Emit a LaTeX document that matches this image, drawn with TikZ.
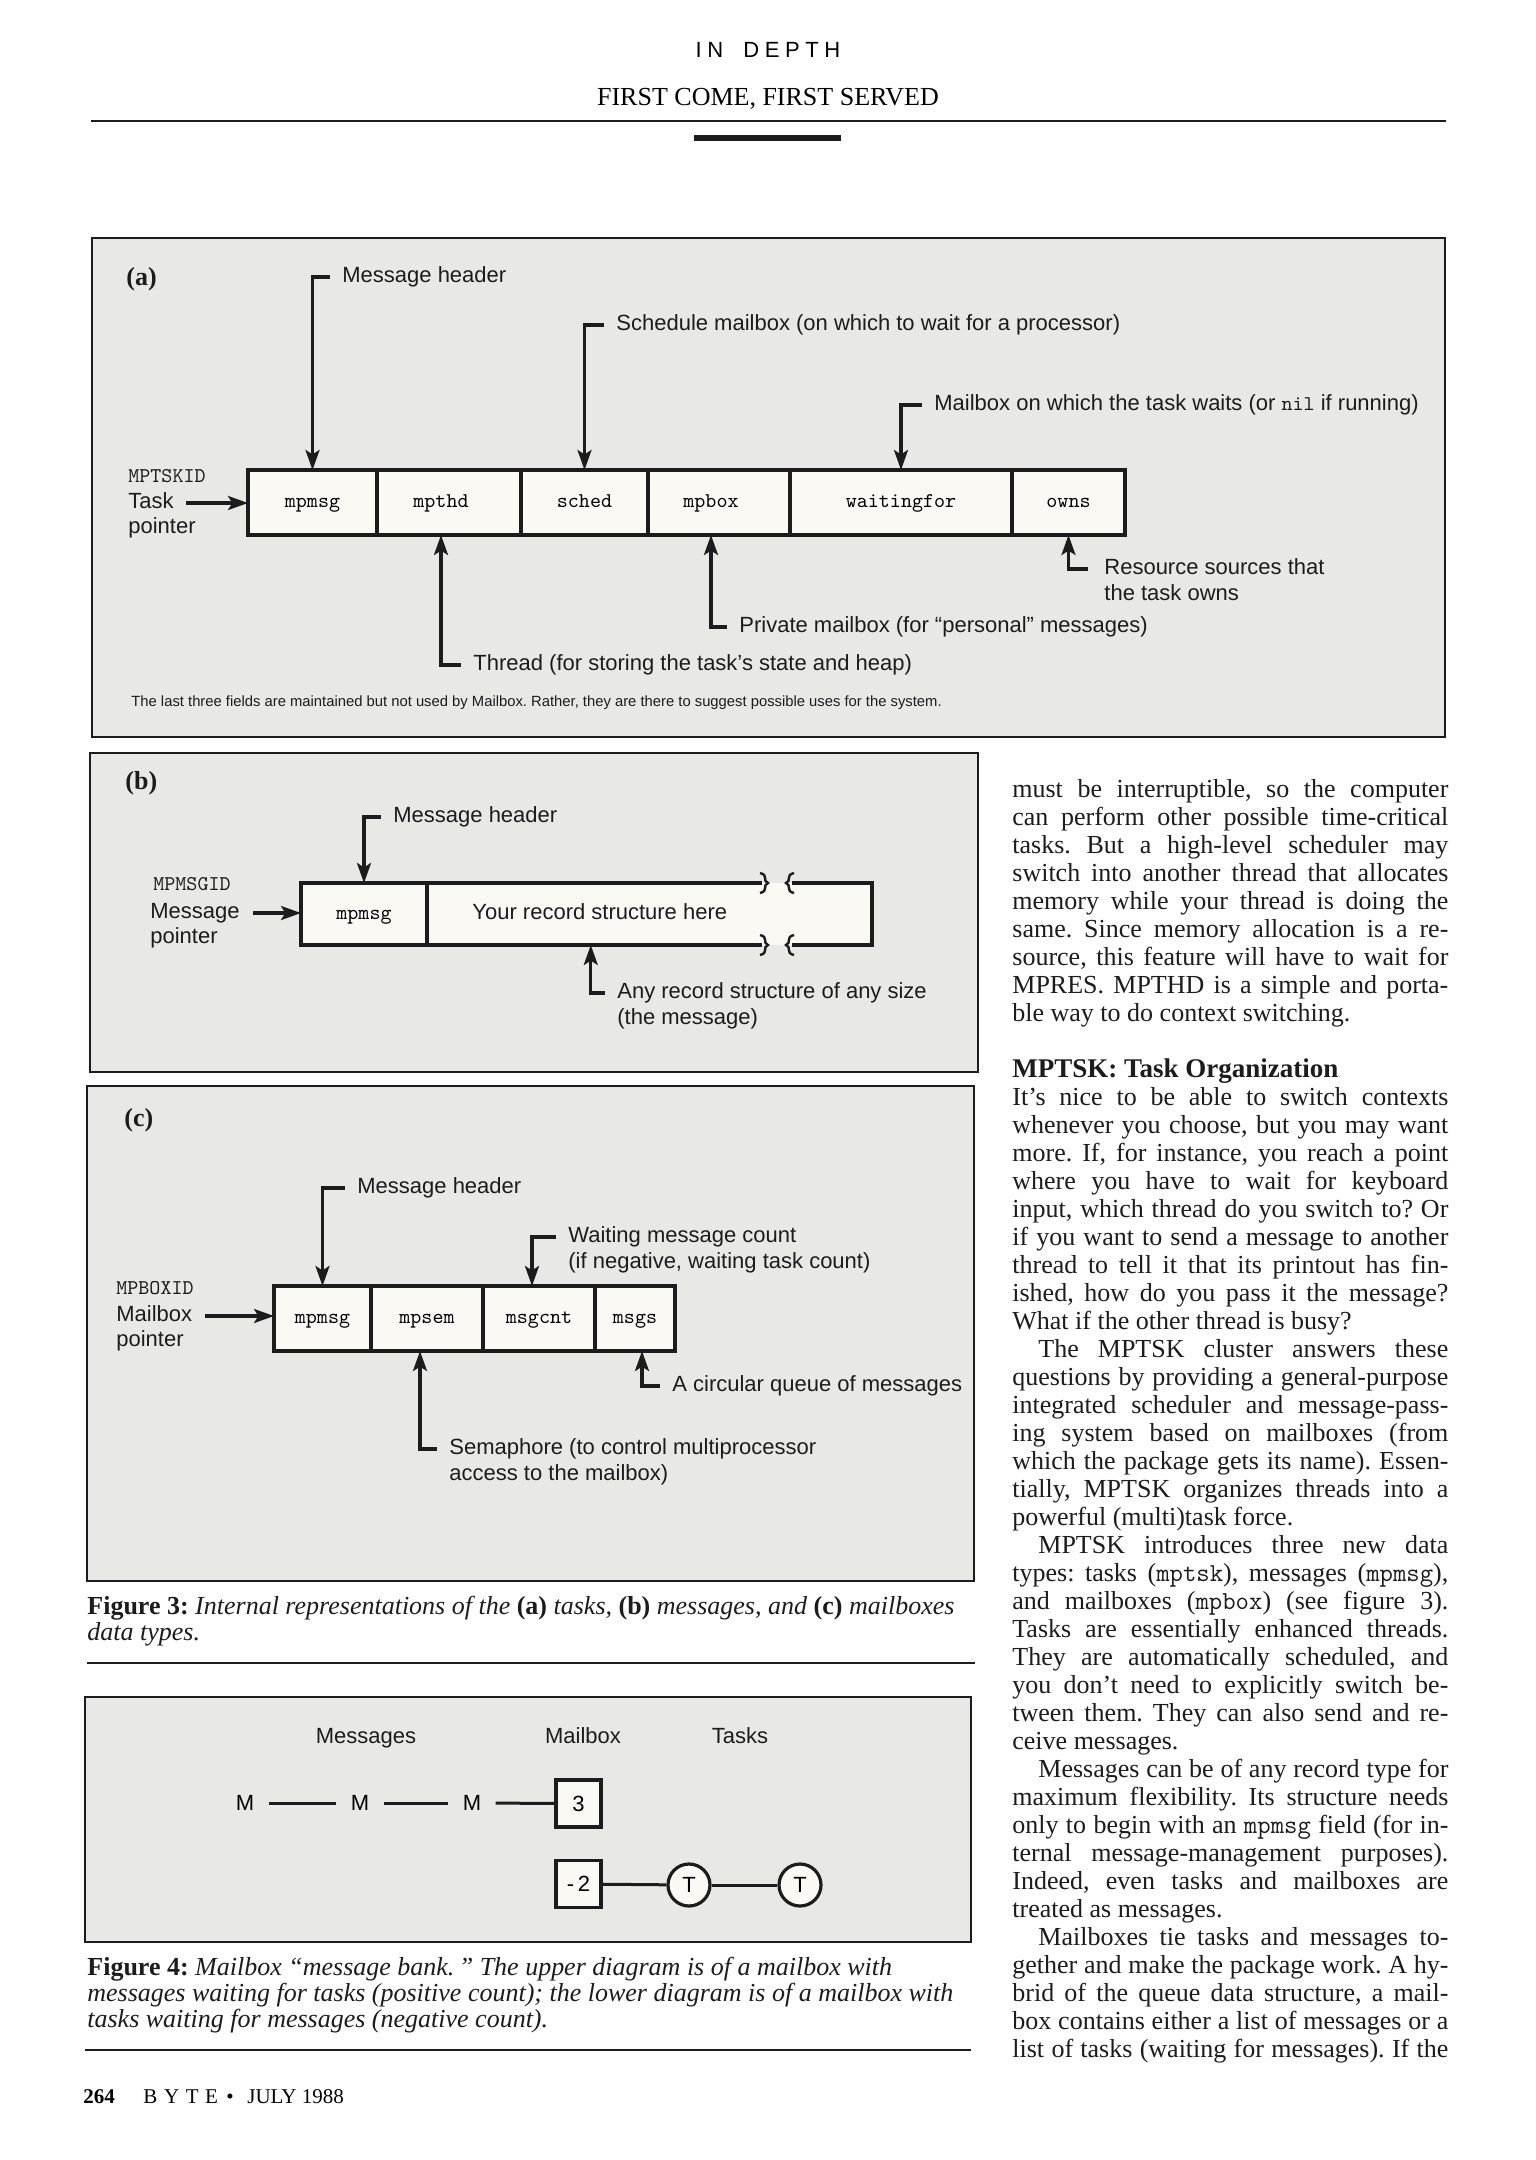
\documentclass[tikz,border=0pt]{standalone}
\usepackage{fontspec}
\setmainfont{Liberation Serif}
\newfontfamily\lab{Liberation Sans}
\usetikzlibrary{arrows.meta}
\definecolor{figbg}{RGB}{232,232,229}
\definecolor{cellbg}{RGB}{250,249,244}
\definecolor{ink}{RGB}{28,28,28}
\frenchspacing
\newcommand\bodyj[3]{\node[body] (#1) at (1012,#2) {\makebox[218pt][s]{#3}};}
\newcommand\bodyl[3]{\node[body] (#1) at (1012,#2) {#3};}
\newcommand\brkL[2]{\draw[brk] (#1-4,#2-10) .. controls (#1+5,#2-8) and (#1-2,#2-2) .. (#1+4,#2) .. controls (#1-2,#2+2) and (#1+5,#2+8) .. (#1-4,#2+10);}
\newcommand\brkR[2]{\draw[brk] (#1+4,#2-10) .. controls (#1-5,#2-8) and (#1+2,#2-2) .. (#1-4,#2) .. controls (#1+2,#2+2) and (#1-5,#2+8) .. (#1+4,#2+10);}
\begin{document}
\begin{tikzpicture}[x=0.5pt,y=-0.5pt,
  panel/.style={draw=ink, line width=1pt, fill=figbg},
  cell/.style={draw=ink, line width=1.7pt, fill=cellbg, inner sep=0pt, outer sep=0pt, minimum height=32.5pt, anchor=west, text height=7pt, text depth=2pt, font=\ttfamily\fontsize{10.5}{12}\selectfont},
  boxline/.style={draw=ink, line width=1.7pt},
  brk/.style={draw=ink, line width=1.2pt},
  lbl/.style={inner sep=0pt, anchor=west, text height=8pt, text depth=2.5pt, font=\lab\fontsize{11}{13}\selectfont, text=ink},
  ttl/.style={inner sep=0pt, anchor=west, text height=8pt, text depth=2.5pt, font=\ttfamily\fontsize{10.5}{12}\selectfont, text=ink},
  plabel/.style={inner sep=0pt, anchor=west, font=\bfseries\fontsize{13}{15}\selectfont, text=ink},
  ptr/.style={draw=ink, line width=1.6pt, -{Stealth[length=10pt,width=7pt,inset=2.2pt]}},
  link/.style={draw=ink, line width=1.5pt},
  body/.style={inner sep=0pt, anchor=base west, font=\fontsize{13}{14}\selectfont, text=ink},
  capt/.style={inner sep=0pt, anchor=base west, font=\fontsize{13}{14}\selectfont, text=ink},
  note/.style={inner sep=0pt, anchor=west, font=\lab\fontsize{7.4}{9}\selectfont, text=ink},
  mbox/.style={draw=ink, line width=1.6pt, fill=cellbg, minimum width=22.5pt, minimum height=23.5pt, inner sep=0pt, font=\lab\fontsize{11}{13}\selectfont},
  tcirc/.style={circle, draw=ink, line width=1.6pt, fill=cellbg, minimum size=21pt, inner sep=0pt, font=\lab\fontsize{11}{13}\selectfont},
  mnode/.style={inner xsep=7pt, inner ysep=0pt, font=\lab\fontsize{11}{13}\selectfont}
]
\useasboundingbox (0,0) rectangle (1536,2160);
\fill[white] (0,0) rectangle (1536,2160);

% ---------- page header ----------
\node[inner sep=0pt, anchor=base, font=\lab\fontsize{11}{13}\selectfont] (hdr1) at (768,57)
  {I\kern2.8pt N\kern10pt D\kern2.8pt E\kern2.8pt P\kern2.8pt T\kern2.8pt H};
\node[inner sep=0pt, anchor=base, font=\fontsize{13}{15}\selectfont] (hdr2) at (768,105)
  {FIRST COME, FIRST SERVED};
\draw[line width=1.1pt, ink] (91,121) -- (1446,121);
\fill[ink] (694,135) rectangle (841,141);

% ---------- figure 3 (a) ----------
\path[panel] (92,238) rectangle (1445,737);
\node[plabel] (pa) at (126,279) {(a)};
\node[cell, minimum width=64.5pt] (a1) at (248,502.5) {mpmsg};
\node[cell, minimum width=72pt] (a2) at (a1.east) {\hspace*{-8pt}mpthd};
\node[cell, minimum width=63.5pt] (a3) at (a2.east) {sched};
\node[cell, minimum width=71pt] (a4) at (a3.east) {\hspace*{-8pt}mpbox};
\node[cell, minimum width=111pt] (a5) at (a4.east) {waitingfor};
\node[cell, minimum width=56.5pt] (a6) at (a5.east) {owns};

\node[ttl] (idA) at (128,477) {MPTSKID};
\node[lbl] (taskA) at (128,503) {Task};
\node[lbl] (ptrA) at (128,528) {pointer};
\draw[ptr] ([xshift=6pt]taskA.east) -- (taskA.east -| a1.west);

\node[lbl] (hdrA) at (342,277) {Message header};
\node[lbl] (schA) at (616,325) {Schedule mailbox (on which to wait for a processor)};
\node[lbl] (waitA) at (934,405) {Mailbox on which the task waits (or {\ttfamily\fontsize{10.5}{12}\selectfont nil} if running)};
\node[lbl] (ownsA) at (1104,569) {Resource sources that};
\node[lbl, anchor=north west] (ownsB) at ([yshift=-2pt]ownsA.south west) {the task owns};
\node[lbl] (privA) at (739,627) {Private mailbox (for “personal” messages)};
\node[lbl] (thrA) at (473,665) {Thread (for storing the task’s state and heap)};
\node[note] (noteA) at (131,703) {The last three fields are maintained but not used by Mailbox. Rather, they are there to suggest possible uses for the system.};

\draw[ptr] ([xshift=-6pt]hdrA.west) -| (a1.north);
\draw[ptr] ([xshift=-6pt]schA.west) -| (a3.north);
\draw[ptr] ([xshift=-6pt]waitA.west) -| (a5.north);
\draw[ptr] ([xshift=-8pt]ownsA.west) -| (a6.south);
\draw[ptr] ([xshift=-6pt]privA.west) -| ([xshift=-4pt]a4.south);
\draw[ptr] ([xshift=-6pt]thrA.west) -| ([xshift=-4pt]a2.south);

% ---------- figure 3 (b) ----------
\path[panel] (90,753) rectangle (978,1072);
\node[plabel] (pb) at (125,783) {(b)};
\node[cell, draw=none, minimum width=222.5pt, minimum height=31pt] (b2) at (427,914) {};
\node[cell, anchor=east, minimum width=63pt, minimum height=31pt] (b1) at (b2.west) {mpmsg};
\draw[boxline] (b2.north west) -- +(335,0);
\draw[boxline] (b2.south west) -- +(335,0);
\draw[boxline] ([xshift=-40pt]b2.north east) -- (b2.north east) -- (b2.south east) -- ([xshift=-40pt]b2.south east);
\brkL{764}{883}
\brkL{764}{945}
\brkR{790}{883}
\brkR{790}{945}
\node[lbl] (rec) at (472,914) {Your record structure here};

\node[ttl] (idB) at (153,885) {MPMSGID};
\node[lbl] (msgB) at (150,913) {Message};
\node[lbl] (ptrB) at (150,938) {pointer};
\draw[ptr] ([xshift=6.5pt]msgB.east) -- (msgB.east -| b1.west);

\node[lbl] (hdrB) at (393,817) {Message header};
\draw[ptr] ([xshift=-6pt]hdrB.west) -| (b1.north);
\node[lbl] (anyB) at (617,993) {Any record structure of any size};
\node[lbl, anchor=north west] (anyB2) at ([yshift=-2pt]anyB.south west) {(the message)};
\draw[ptr] ([xshift=-6pt]anyB.west) -| ([xshift=-4.5pt]rec.center |- b2.south);

% ---------- figure 3 (c) ----------
\path[panel] (87,1086) rectangle (974,1581);
\node[plabel] (pc) at (124,1120) {(c)};
\node[cell, minimum width=48.5pt] (c1) at (274,1318.5) {mpmsg};
\node[cell, minimum width=56pt] (c2) at (c1.east) {mpsem};
\node[cell, minimum width=56pt] (c3) at (c2.east) {msgcnt};
\node[cell, minimum width=40pt] (c4) at (c3.east) {msgs};

\node[ttl] (idC) at (116,1289) {MPBOXID};
\node[lbl] (mbC) at (116,1316) {Mailbox};
\node[lbl] (ptrC) at (116,1341) {pointer};
\draw[ptr] ([xshift=6pt]mbC.east) -- (mbC.east -| c1.west);

\node[lbl] (hdrC) at (357,1188) {Message header};
\draw[ptr] ([xshift=-6pt]hdrC.west) -| (c1.north);
\node[lbl] (waitC) at (568,1237) {Waiting message count};
\node[lbl, anchor=north west] (waitC2) at ([yshift=-2pt]waitC.south west) {(if negative, waiting task count)};
\draw[ptr] ([xshift=-6pt]waitC.west) -| ([xshift=-3.5pt]c3.north);
\node[lbl] (circC) at (672,1386) {A circular queue of messages};
\draw[ptr] ([xshift=-6pt]circC.west) -| ([xshift=3.5pt]c4.south);
\node[lbl] (semC) at (449,1449) {Semaphore (to control multiprocessor};
\node[lbl, anchor=north west] (semC2) at ([yshift=-2pt]semC.south west) {access to the mailbox)};
\draw[ptr] ([xshift=-6pt]semC.west) -| ([xshift=-3.5pt]c2.south);

\node[capt] (cap3a) at (87,1614) {\textbf{Figure 3:} \textit{Internal representations of the} \textbf{(a)} \textit{tasks,} \textbf{(b)} \textit{messages, and} \textbf{(c)} \textit{mailboxes}};
\node[capt] (cap3b) at (87,1640) {\textit{data types.}};
\draw[line width=1.1pt, ink] (87,1663) -- (975,1663);

% ---------- figure 4 ----------
\path[panel] (85,1697) rectangle (971,1942);
\node[lbl, anchor=center] (hMsg) at (366,1738) {Messages};
\node[lbl, anchor=center] (hBox) at (583,1738) {Mailbox};
\node[lbl, anchor=center] (hTsk) at (740,1738) {Tasks};
\node[mnode] (m1) at (245,1803) {M};
\node[mnode] (m2) at (360,1803) {M};
\node[mnode] (m3) at (472,1803) {M};
\node[mbox] (bx3) at (578.5,1803.5) {3};
\node[mbox] (bxm) at (578.5,1884) {-\,2};
\node[tcirc] (t1) at (689,1885) {T};
\node[tcirc] (t2) at (800,1885) {T};
\draw[link] (m1) -- (m2);
\draw[link] (m2) -- (m3);
\draw[link] (m3) -- (bx3);
\draw[link] (bxm) -- (t1);
\draw[link] (t1) -- (t2);

\node[capt] (cap4a) at (87,1975) {\textbf{Figure 4:} \textit{Mailbox “message bank.\,” The upper diagram is of a mailbox with}};
\node[capt] (cap4b) at (87,2001) {\textit{messages waiting for tasks (positive count); the lower diagram is of a mailbox with}};
\node[capt] (cap4c) at (87,2027) {\textit{tasks waiting for messages (negative count).}};
\draw[line width=1.1pt, ink] (85,2050) -- (971,2050);

% ---------- footer ----------
\node[inner sep=0pt, anchor=base west, font=\bfseries\fontsize{10.5}{12}\selectfont] (pg) at (83,2103) {264};
\node[inner sep=0pt, anchor=base west, font=\fontsize{10.5}{12}\selectfont] (byte) at (143,2103) {B\kern3.3pt Y\kern3.3pt T\kern3.3pt E};
\node[inner sep=0pt, anchor=base, font=\fontsize{10.5}{12}\selectfont] (dot) at (230,2103) {•};
\node[inner sep=0pt, anchor=base west, font=\fontsize{10.5}{12}\selectfont] (date) at (247,2103) {JULY 1988};

% ---------- right column text ----------
\bodyj{r1}{797}{must be interruptible, so the computer}
\bodyj{r2}{825}{can perform other possible time-critical}
\bodyj{r3}{853}{tasks. But a high-level scheduler may}
\bodyj{r4}{881}{switch into another thread that allocates}
\bodyj{r5}{909}{memory while your thread is doing the}
\bodyj{r6}{937}{same. Since memory allocation is a re-}
\bodyj{r7}{965}{source, this feature will have to wait for}
\bodyj{r8}{993}{MPRES. MPTHD is a simple and porta-}
\bodyl{r9}{1021}{ble way to do context switching.}
\node[body, font=\bfseries\fontsize{13.5}{15}\selectfont] (head) at (1012,1077) {MPTSK: Task Organization};
\bodyj{r10}{1105}{It’s nice to be able to switch contexts}
\bodyj{r11}{1133}{whenever you choose, but you may want}
\bodyj{r12}{1161}{more. If, for instance, you reach a point}
\bodyj{r13}{1189}{where you have to wait for keyboard}
\bodyj{r14}{1217}{input, which thread do you switch to? Or}
\bodyj{r15}{1245}{if you want to send a message to another}
\bodyj{r16}{1273}{thread to tell it that its printout has fin-}
\bodyj{r17}{1301}{ished, how do you pass it the message?}
\bodyl{r18}{1329}{What if the other thread is busy?}
\bodyj{r19}{1357}{\hspace*{13pt}The MPTSK cluster answers these}
\bodyj{r20}{1385}{questions by providing a general-purpose}
\bodyj{r21}{1413}{integrated scheduler and message-pass-}
\bodyj{r22}{1441}{ing system based on mailboxes (from}
\bodyj{r23}{1469}{which the package gets its name). Essen-}
\bodyj{r24}{1497}{tially, MPTSK organizes threads into a}
\bodyl{r25}{1525}{powerful (multi)task force.}
\bodyj{r26}{1553}{\hspace*{13pt}MPTSK introduces three new data}
\bodyj{r27}{1581}{types: tasks (\texttt{mptsk}), messages (\texttt{mpmsg}),}
\bodyj{r28}{1609}{and mailboxes (\texttt{mpbox}) (see figure 3).}
\bodyj{r29}{1637}{Tasks are essentially enhanced threads.}
\bodyj{r30}{1665}{They are automatically scheduled, and}
\bodyj{r31}{1693}{you don’t need to explicitly switch be-}
\bodyj{r32}{1721}{tween them. They can also send and re-}
\bodyl{r33}{1749}{ceive messages.}
\bodyj{r34}{1777}{\hspace*{13pt}Messages can be of any record type for}
\bodyj{r35}{1805}{maximum flexibility. Its structure needs}
\bodyj{r36}{1833}{only to begin with an \texttt{mpmsg} field (for in-}
\bodyj{r37}{1861}{ternal message-management purposes).}
\bodyj{r38}{1889}{Indeed, even tasks and mailboxes are}
\bodyl{r39}{1917}{treated as messages.}
\bodyj{r40}{1945}{\hspace*{13pt}Mailboxes tie tasks and messages to-}
\bodyj{r41}{1973}{gether and make the package work. A hy-}
\bodyj{r42}{2001}{brid of the queue data structure, a mail-}
\bodyj{r43}{2029}{box contains either a list of messages or a}
\bodyj{r44}{2057}{list of tasks (waiting for messages). If the}
\end{tikzpicture}
\end{document}
